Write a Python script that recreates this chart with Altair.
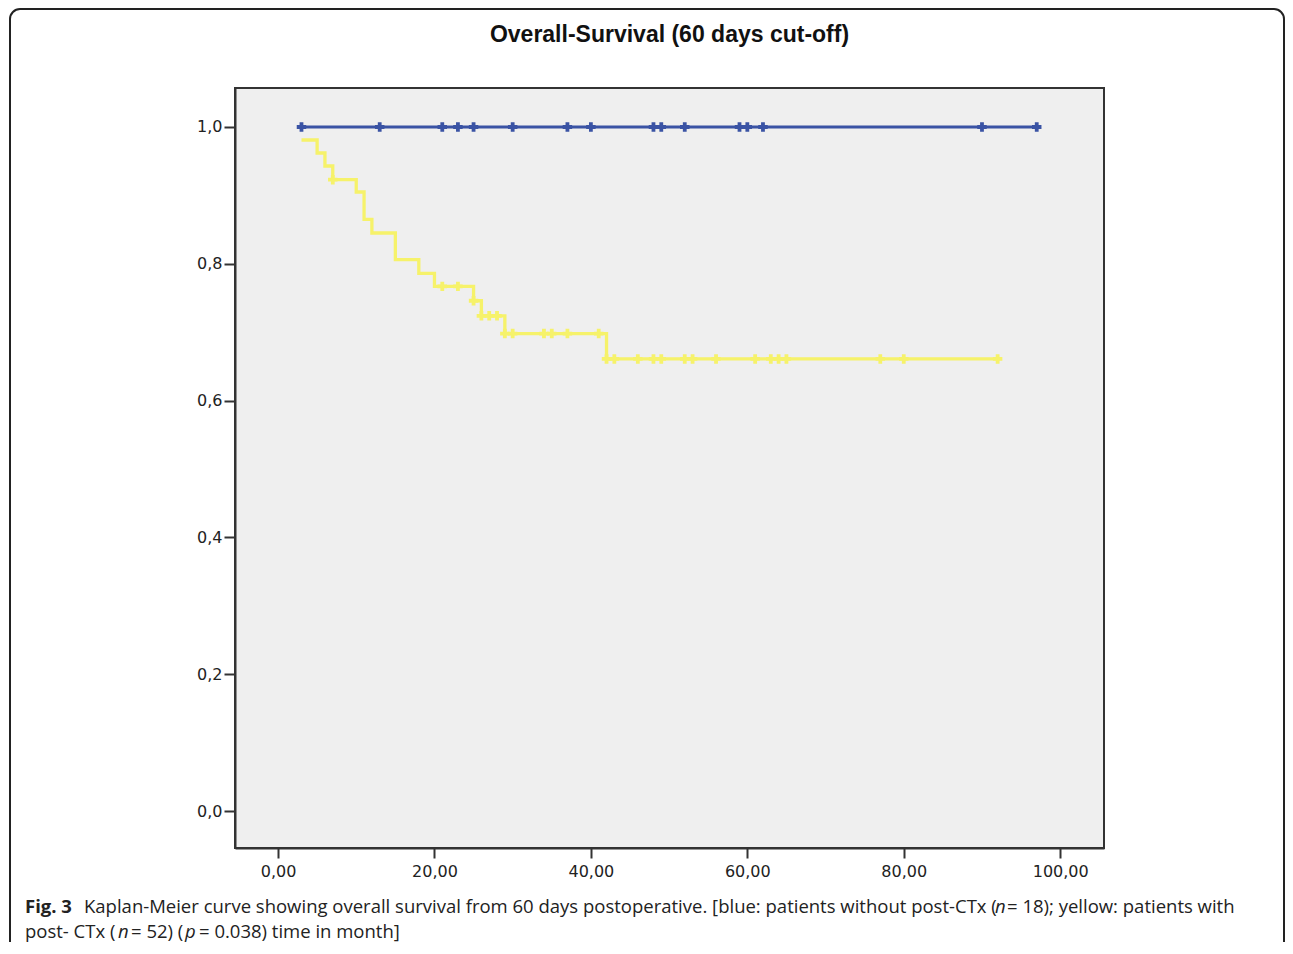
import altair as alt
import pandas as pd

# ---- data ----
blue_line_times = [3, 97]
blue_line_surv = [1.0, 1.0]
blue_censor_times = [3, 13, 21, 23, 25, 30, 37, 40, 48, 49, 52, 59, 60, 62, 90, 97]
blue_censor_surv = [1.0] * 16

yellow_step_times = [3, 5, 6, 7, 10, 11, 12, 15, 18, 20, 25, 26, 29, 42, 92]
yellow_step_surv = [0.981, 0.962, 0.943, 0.923, 0.905, 0.865, 0.845, 0.806,
                    0.786, 0.767, 0.746, 0.724, 0.698, 0.661, 0.661]
yellow_censor_times = [7, 21, 23, 25, 26, 27, 28, 29, 30, 34, 35, 37, 41,
                       42, 43, 46, 48, 49, 52, 53, 56, 61, 63, 64, 65, 77, 80, 92]
yellow_censor_surv = [0.923, 0.767, 0.767, 0.746, 0.724, 0.724, 0.724,
                      0.698, 0.698, 0.698, 0.698, 0.698, 0.698,
                      0.661, 0.661, 0.661, 0.661, 0.661, 0.661, 0.661, 0.661,
                      0.661, 0.661, 0.661, 0.661, 0.661, 0.661, 0.661]

x_ticks = [0, 20, 40, 60, 80, 100]
y_ticks = [0.0, 0.2, 0.4, 0.6, 0.8, 1.0]

title_text = "Overall-Survival (60 days cut-off)"
caption_segments = [
    # (text, x, y, weight, style)
    ("Fig. 3", 25, 907, "bold", "normal"),
    ("Kaplan-Meier curve showing overall survival from 60 days postoperative. [blue: patients without post-CTx (", 84, 907, "normal", "normal"),
    ("n", 995, 907, "normal", "italic"),
    ("= 18); yellow: patients with", 1007, 907, "normal", "normal"),
    ("post- CTx (", 25, 932, "normal", "normal"),
    ("n", 118, 932, "normal", "italic"),
    ("= 52) (", 131, 932, "normal", "normal"),
    ("p", 185, 932, "normal", "italic"),
    ("= 0.038) time in month]", 199, 932, "normal", "normal"),
]

BLUE = "#3a53a4"
YELLOW = "#f6f26a"
W, H = 869, 760
LEFT, TOP = 235, 88
SVG_W = 1277

blue_line = pd.DataFrame({"t": blue_line_times, "s": blue_line_surv})
blue_cens = pd.DataFrame({"t": blue_censor_times, "s": blue_censor_surv})
yel_line = pd.DataFrame({"t": yellow_step_times, "s": yellow_step_surv})
yel_cens = pd.DataFrame({"t": yellow_censor_times, "s": yellow_censor_surv})
one = pd.DataFrame({"a": [0]})

xscale = alt.Scale(domain=[-5.5, 105.6], nice=False, zero=False)
yscale = alt.Scale(domain=[-0.054, 1.057], nice=False, zero=False)

xenc = alt.X("t:Q", scale=xscale, axis=alt.Axis(
    values=x_ticks, title=None, grid=False,
    labelExpr="replace(format(datum.value, '.2f'), '.', ',')",
    tickSize=10, labelPadding=5))
yenc = alt.Y("s:Q", scale=yscale, axis=alt.Axis(
    values=y_ticks, title=None, grid=False,
    labelExpr="replace(format(datum.value, '.1f'), '.', ',')",
    tickSize=11, labelPadding=2))

blue_l = alt.Chart(blue_line).mark_line(color=BLUE, strokeWidth=3).encode(x=xenc, y=yenc)
blue_c = alt.Chart(blue_cens).mark_point(shape="cross", size=90, color=BLUE,
                                          filled=True, opacity=1).encode(x="t:Q", y="s:Q")
yel_l = alt.Chart(yel_line).mark_line(color=YELLOW, strokeWidth=3.3,
                                      interpolate="step-after").encode(x="t:Q", y="s:Q")
yel_c = alt.Chart(yel_cens).mark_point(shape="cross", size=90, color=YELLOW,
                                        filled=True, opacity=1).encode(x="t:Q", y="s:Q")

title = alt.Chart(one).mark_text(
    text=title_text, font="Liberation Sans", fontWeight="bold", fontSize=23,
    color="#111", align="center", baseline="middle"
).encode(x=alt.value(669.5 - LEFT), y=alt.value(35 - TOP))

caption_layers = []
for txt, cx, cy, wt, st in caption_segments:
    caption_layers.append(
        alt.Chart(one).mark_text(
            text=txt, font="Open Sans", fontSize=18.5, fontWeight=wt, fontStyle=st,
            color="#222", align="left", baseline="middle"
        ).encode(x=alt.value(cx - LEFT), y=alt.value(cy - TOP))
    )

frame = alt.Chart(one).mark_rect(
    fill="transparent", stroke="#222", strokeWidth=2, cornerRadius=10
).encode(x=alt.value(10 - LEFT), x2=alt.value(SVG_W + 7 - LEFT),
         y=alt.value(9 - TOP), y2=alt.value(1000))

chart = alt.layer(frame, yel_l, yel_c, blue_l, blue_c, title, *caption_layers).properties(
    width=W, height=H,
    autosize=alt.AutoSizeParams(type="none"),
    padding={"left": LEFT - 8, "top": TOP - 8, "right": SVG_W - (LEFT - 8) - W, "bottom": 94},
    background="white",
).configure_view(
    fill="#efefef", stroke="#333", strokeWidth=2
).configure_axis(
    domainColor="#333", domainWidth=2, tickColor="#333", tickWidth=2,
    labelFont="DejaVu Sans", labelFontSize=16, labelColor="#222"
)

chart.save("out.html", embed_options={"renderer": "svg", "actions": False})
